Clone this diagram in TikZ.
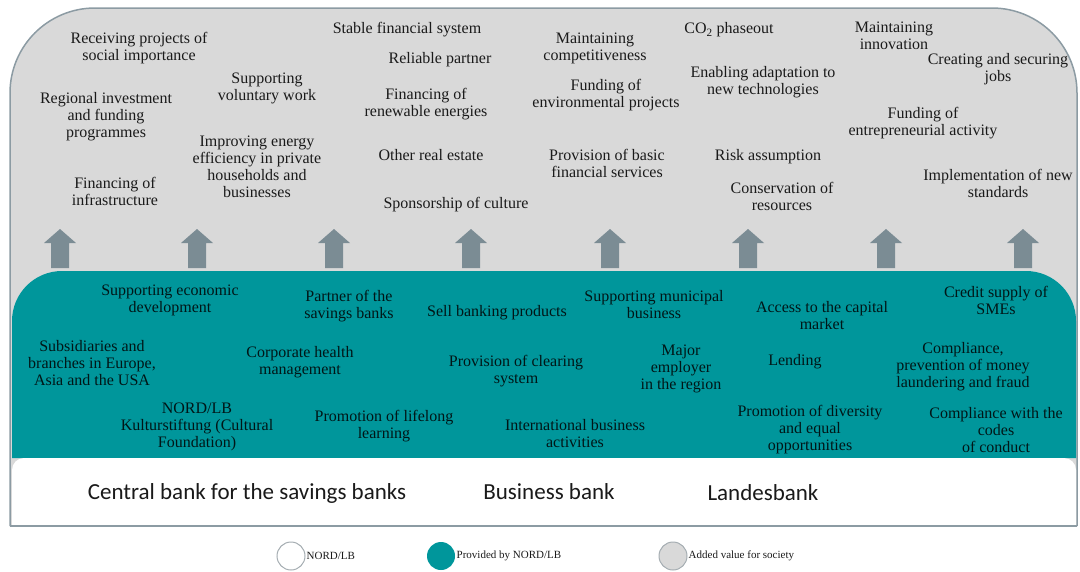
\documentclass[tikz,border=0pt]{standalone}
\usepackage{fontspec}
\setmainfont{Liberation Serif}
\newfontfamily\barfont{Carlito}
\usetikzlibrary{positioning}

\definecolor{society}{HTML}{D9D9D9}
\definecolor{provided}{HTML}{00969B}
\definecolor{rim}{HTML}{8C9BA3}
\definecolor{uparrow}{HTML}{7B8C94}
\definecolor{ink}{HTML}{1A1A1A}
\definecolor{ring}{HTML}{A5ADB2}

\begin{document}
\begin{tikzpicture}[x=1pt,y=-1pt]
  \tikzset{ val/.style={ink,align=center,inner sep=0pt,font=\fontsize{16}{17}\selectfont},
    prov/.style={val,text=black!85!provided},
    role/.style={ink,inner sep=0pt,font=\barfont\fontsize{23}{25}\selectfont},
    dot/.style={circle,minimum size=28pt,inner sep=0pt,line width=1pt},
    leg/.style={ink,inner sep=0pt,font=\fontsize{11}{12}\selectfont},
  }
  \useasboundingbox (0,0) rectangle (1080,571);

  % the three layers
  \filldraw[fill=society,draw=rim,line width=1.5pt,rounded corners=85pt]
    (1077,526) -- (1077,8) -- (10,8) -- (10,526);
  \fill[provided,rounded corners=50pt] (1076,458) -- (1076,271) -- (12,271) -- (12,458);
  \fill[white,rounded corners=12pt] (1076,526) -- (1076,458) -- (12,458) -- (12,526);
  \draw[rim,line width=1.5pt] (10,526) -- (1077,526);

  % arrows up into the society layer
  \foreach \x in {60,197,334,471,610,748,886,1023}
    \fill[uparrow] (\x-9,268) -- (\x-9,243) -- (\x-16,243) -- (\x,229)
      -- (\x+16,243) -- (\x+9,243) -- (\x+9,268) -- cycle;

  % added value for society
  \node[val] (v1) at (139, 48) {Receiving projects of\\social importance};
  \node[val] (v2) at (106,117) {Regional investment\\and funding\\programmes};
  \node[val] (v3) at (115,191) {Financing of\\infrastructure};
  \node[val] (v4) at (267, 88) {Supporting\\voluntary work};
  \node[val] (v5) at (257,167) {Improving energy\\efficiency in private\\households and\\businesses};
  \node[val] (v6) at (407, 30) {Stable financial system};
  \node[val] (v7) at (440, 60) {Reliable partner};
  \node[val] (v8) at (426,104) {Financing of\\renewable energies};
  \node[val] (v9) at (431,155) {Other real estate};
  \node[val] (v10) at (456,205) {Sponsorship of culture};
  \node[val] (v11) at (595, 48) {Maintaining\\competitiveness};
  \node[val] (v12) at (606, 95) {Funding of\\environmental projects};
  \node[val] (v13) at (607,163) {Provision of basic\\financial services};
  \node[val] (v14) at (729, 30) {CO\textsubscript{2} phaseout};
  \node[val] (v15) at (763, 82) {Enabling adaptation to\\new technologies};
  \node[val] (v16) at (768,157) {Risk assumption};
  \node[val] (v17) at (782,196) {Conservation of\\resources};
  \node[val] (v18) at (894, 36) {Maintaining\\innovation};
  \node[val] (v19) at (998, 69) {Creating and securing\\jobs};
  \node[val] (v20) at (923,123) {Funding of\\entrepreneurial activity};
  \node[val] (v21) at (998,183) {Implementation of new\\standards};

  % provided by NORD/LB
  \node[prov] (p1) at (170,300) {Supporting economic\\development};
  \node[prov] (p2) at ( 92,363) {Subsidiaries and\\branches in Europe,\\Asia and the USA};
  \node[prov] (p3) at (197,427) {NORD/LB\\Kulturstiftung (Cultural\\Foundation)};
  \node[prov] (p4) at (349,306) {Partner of the\\savings banks};
  \node[prov] (p5) at (300,362) {Corporate health\\management};
  \node[prov] (p6) at (384,426) {Promotion of lifelong\\learning};
  \node[prov] (p7) at (497,313) {Sell banking products};
  \node[prov] (p8) at (516,371) {Provision of clearing\\system};
  \node[prov] (p9) at (575,434) {International business\\activities};
  \node[prov] (p10) at (654,305) {Supporting municipal\\business};
  \node[prov] (p11) at (681,369) {Major\\employer\\in the region};
  \node[prov] (p12) at (822,316) {Access to the capital\\market};
  \node[prov] (p13) at (795,362) {Lending};
  \node[prov] (p14) at (810,430) {Promotion of diversity\\and equal\\opportunities};
  \node[prov] (p15) at (996,300) {Credit supply of\\SMEs};
  \node[prov] (p16) at (963,367) {Compliance,\\prevention of money\\laundering and fraud};
  \node[prov] (p17) at (996,430) {Compliance with the\\codes\\of conduct};

  % NORD/LB itself
  \node[role] (r1) at (247,493) {Central bank for the savings banks};
  \node[role] (r2) at (549,492) {Business bank};
  \node[role] (r3) at (763,493) {Landesbank};

  % legend
  \node[dot,draw=ring,fill=white] (k1) at (291,556) {};
  \node[dot,fill=provided] (k2) at (441,556) {};
  \node[dot,draw=ring,fill=society] (k3) at (673,556) {};
  \node[leg,right=1pt of k1] (l1) {NORD/LB};
  \node[leg,right=1pt of k2] (l2) {Provided by NORD/LB};
  \node[leg,right=1pt of k3] (l3) {Added value for society};
\end{tikzpicture}
\end{document}
